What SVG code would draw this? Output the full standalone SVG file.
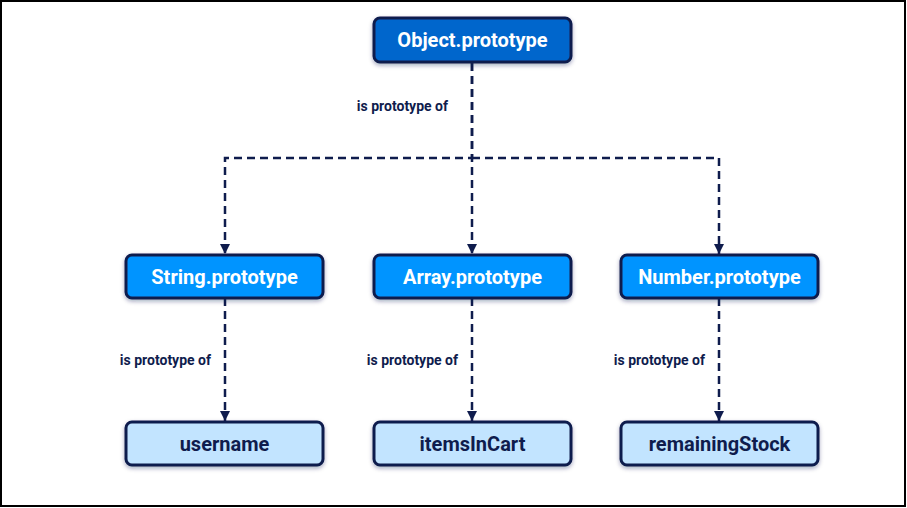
<svg xmlns="http://www.w3.org/2000/svg" width="907" height="508" viewBox="0 0 907 508">
<defs>
<style>
.node rect{stroke:#0f1c4d;stroke-width:3;filter:url(#sh)}
.n0 rect{fill:#0066cc}
.n1 rect{fill:#0094ff}
.n2 rect{fill:#c2e4ff}
.node text{font-family:Roboto,"Liberation Sans",sans-serif;font-weight:bold;font-size:20px;text-anchor:middle;dominant-baseline:central}
.n0 text,.n1 text{fill:#ffffff}
.n2 text{fill:#0f1c4d}
.edge{fill:none;stroke:#0f1c4d;stroke-width:2.5;stroke-dasharray:8 5}
.lbl{font-family:Roboto,"Liberation Sans",sans-serif;font-weight:bold;font-size:14px;fill:#0f1c4d;text-anchor:end;dominant-baseline:central}
</style>
<filter id="sh" x="-10%" y="-20%" width="120%" height="150%">
<feDropShadow dx="0" dy="2" stdDeviation="2" flood-color="#0f1c4d" flood-opacity="0.35"/>
</filter>
<marker id="arr" viewBox="0 0 10 10" refX="10" refY="5" markerWidth="10" markerHeight="10" markerUnits="userSpaceOnUse" orient="auto">
<path d="M0,0 L10,5 L0,10 z" fill="#0f1c4d"/>
</marker>
</defs>
<rect x="1" y="1" width="904" height="505" fill="#ffffff" stroke="#000000" stroke-width="2"/>
<g id="connectors">
<path class="edge" d="M472,63 V158 H225 V254" marker-end="url(#arr)"/>
<path class="edge" d="M472,63 V254" marker-end="url(#arr)"/>
<path class="edge" d="M472,158 H719 V254" marker-end="url(#arr)"/>
<path class="edge" d="M225,298 V421" marker-end="url(#arr)"/>
<path class="edge" d="M472,298 V421" marker-end="url(#arr)"/>
<path class="edge" d="M719,298 V421" marker-end="url(#arr)"/>
<text class="lbl" x="448" y="106">is prototype of</text>
<text class="lbl" x="211" y="360">is prototype of</text>
<text class="lbl" x="458" y="360">is prototype of</text>
<text class="lbl" x="705" y="360">is prototype of</text>
</g>
<g id="object-prototype" class="node n0"><rect x="374" y="18" width="197" height="44" rx="6"/><text x="472.5" y="40">Object.prototype</text></g>
<g id="string-prototype" class="node n1"><rect x="126" y="255" width="197" height="43" rx="6"/><text x="224.5" y="277">String.prototype</text></g>
<g id="array-prototype" class="node n1"><rect x="374" y="255" width="197" height="43" rx="6"/><text x="472.5" y="277">Array.prototype</text></g>
<g id="number-prototype" class="node n1"><rect x="621" y="255" width="197" height="43" rx="6"/><text x="719.5" y="277">Number.prototype</text></g>
<g id="username" class="node n2"><rect x="126" y="422" width="197" height="43" rx="6"/><text x="224.5" y="444">username</text></g>
<g id="itemsInCart" class="node n2"><rect x="374" y="422" width="197" height="43" rx="6"/><text x="472.5" y="444">itemsInCart</text></g>
<g id="remainingStock" class="node n2"><rect x="621" y="422" width="197" height="43" rx="6"/><text x="719.5" y="444">remainingStock</text></g>
</svg>
